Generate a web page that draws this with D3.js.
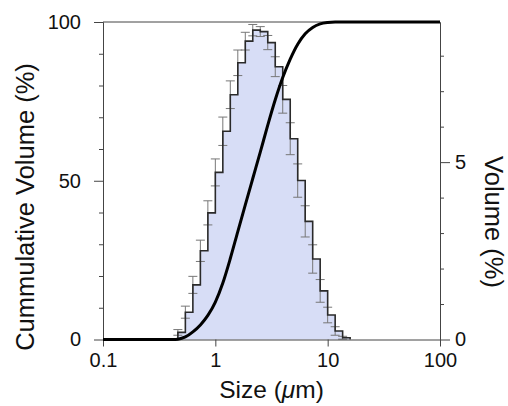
<!DOCTYPE html>
<html>
<head>
<meta charset="utf-8">
<script src="https://cdn.jsdelivr.net/npm/d3@7"></script>
<style>
  body { margin: 0; background: #fff; }
  svg { font-family: "Liberation Sans", Arial, Helvetica, sans-serif; }
  .axis path, .axis line { stroke: #444; }
  .axis text { fill: #111; font-size: 20px; }
</style>
</head>
<body>
<svg id="svg1" width="508" height="406"></svg>
<script>
// bin edges (um), 15 per decade, lower edges + final upper edge
var binEdges = [0.464, 0.541, 0.631, 0.736, 0.858, 1.0, 1.166, 1.359, 1.585, 1.848, 2.154, 2.512,
                2.929, 3.415, 3.981, 4.642, 5.412, 6.31, 7.356, 8.577, 10.0, 11.66, 13.59, 15.85];
// volume % per bin
var volume = [0.2, 0.77, 1.54, 2.5, 3.57, 4.71, 5.87, 6.9, 7.8, 8.41, 8.72, 8.68,
              8.37, 7.69, 6.77, 5.66, 4.48, 3.33, 2.27, 1.37, 0.69, 0.24, 0.05];
// error (+/-) per bin
var volumeErr = [0.08, 0.17, 0.24, 0.3, 0.34, 0.38, 0.4, 0.39, 0.36, 0.25, 0.16, 0.14,
                 0.2, 0.28, 0.39, 0.45, 0.47, 0.44, 0.4, 0.32, 0.22, 0.12, 0.04];
// cumulative curve
var cumSize = [0.1, 0.42, 0.464, 0.541, 0.631, 0.736, 0.858, 1.0, 1.166, 1.359, 1.585, 1.848, 2.154,
               2.512, 2.929, 3.415, 3.981, 4.642, 5.412, 6.31, 7.356, 8.577, 10.0, 11.66, 13.59, 100];
var cumValue = [0, 0, 0.1, 0.8, 2.4, 4.6, 7.6, 11.8, 17.8, 25.5, 34, 42.4, 50.7,
                59, 67.5, 75.5, 82.5, 88.3, 93, 96.3, 98.3, 99.4, 99.85, 100, 100, 100];

var xTicks = [0.1, 1, 10, 100];
var leftTicks = [0, 50, 100];
var leftMinor = [10, 20, 30, 40, 60, 70, 80, 90];
var rightTicks = [0, 5];
var rightMinor = [1, 2, 3, 4, 6, 7, 8];

var plotL = 103, plotR = 440, plotT = 22, plotB = 339.5;

var svg = d3.select('svg');

var x = d3.scaleLog().domain([0.1, 100]).range([plotL, plotR]);
var yCum = d3.scaleLinear().domain([0, 100]).range([plotB, plotT]);
var yVol = d3.scaleLinear().domain([0, 8.95]).range([plotB, plotT]);

// histogram as steps
var bins = volume.map(function(v, i) {
    return {x0: binEdges[i], x1: binEdges[i + 1], v: v, e: volumeErr[i]};
});

var stepPath = 'M' + x(bins[0].x0) + ',' + yVol(0);
bins.forEach(function(b) {
    stepPath += 'V' + yVol(b.v) + 'H' + x(b.x1);
});
stepPath += 'V' + yVol(0);

svg.append('path')
    .attr('d', stepPath + 'Z')
    .attr('fill', '#d7ddf6')
    .attr('stroke', 'none');

// error bars at the left edge of each bin
var eb = svg.append('g').attr('stroke', '#777').attr('stroke-width', 1);
bins.forEach(function(b) {
    var cx = x(b.x0);
    eb.append('line').attr('x1', cx).attr('x2', cx)
        .attr('y1', yVol(b.v - b.e)).attr('y2', yVol(b.v + b.e));
    eb.append('line').attr('x1', cx - 4.5).attr('x2', cx + 4.5)
        .attr('y1', yVol(b.v - b.e)).attr('y2', yVol(b.v - b.e));
    eb.append('line').attr('x1', cx - 4.5).attr('x2', cx + 4.5)
        .attr('y1', yVol(b.v + b.e)).attr('y2', yVol(b.v + b.e));
});

svg.append('path')
    .attr('d', stepPath)
    .attr('fill', 'none')
    .attr('stroke', '#2a2a2a')
    .attr('stroke-width', 1.6);

// frame top line
svg.append('line')
    .attr('x1', plotL).attr('x2', plotR)
    .attr('y1', plotT).attr('y2', plotT)
    .attr('stroke', '#444');

// axes
svg.append('g').attr('class', 'axis')
    .attr('transform', 'translate(0,' + plotB + ')')
    .call(d3.axisBottom(x).tickValues(xTicks).tickFormat(function(d) { return String(d); })
        .tickSize(7).tickSizeOuter(0).tickPadding(6));

svg.append('g').attr('class', 'axis')
    .attr('transform', 'translate(' + plotL + ',0)')
    .call(d3.axisLeft(yCum).tickValues(leftMinor).tickSize(4).tickFormat('').tickSizeOuter(0));
svg.append('g').attr('class', 'axis')
    .attr('transform', 'translate(' + plotL + ',0)')
    .call(d3.axisLeft(yCum).tickValues(leftTicks).tickSize(9).tickSizeOuter(0).tickPadding(13));

svg.append('g').attr('class', 'axis')
    .attr('transform', 'translate(' + plotR + ',0)')
    .call(d3.axisRight(yVol).tickValues(rightMinor).tickSize(4).tickFormat('').tickSizeOuter(0));
svg.append('g').attr('class', 'axis')
    .attr('transform', 'translate(' + plotR + ',0)')
    .call(d3.axisRight(yVol).tickValues(rightTicks).tickSize(10).tickSizeOuter(0).tickPadding(5));

// cumulative curve
var line = d3.line()
    .x(function(d, i) { return x(cumSize[i]); })
    .y(function(d) { return yCum(d); })
    .curve(d3.curveMonotoneX);

svg.append('path')
    .datum(cumValue)
    .attr('d', line)
    .attr('fill', 'none')
    .attr('stroke', '#000')
    .attr('stroke-width', 3);

// titles
var xt = svg.append('text')
    .attr('x', (plotL + plotR) / 2).attr('y', 398)
    .attr('text-anchor', 'middle')
    .style('font-size', '24.5px').attr('fill', '#111');
xt.append('tspan').text('Size (');
xt.append('tspan').style('font-style', 'italic').text('\u03bc');
xt.append('tspan').text('m)');

svg.append('text')
    .attr('transform', 'translate(34,207) rotate(-90)')
    .attr('text-anchor', 'middle')
    .style('font-size', '25.5px').attr('fill', '#111')
    .text('Cummulative Volume (%)');

svg.append('text')
    .attr('transform', 'translate(485,222) rotate(90)')
    .attr('text-anchor', 'middle')
    .style('font-size', '25.5px').attr('fill', '#111')
    .text('Volume (%)');
</script>
</body>
</html>
